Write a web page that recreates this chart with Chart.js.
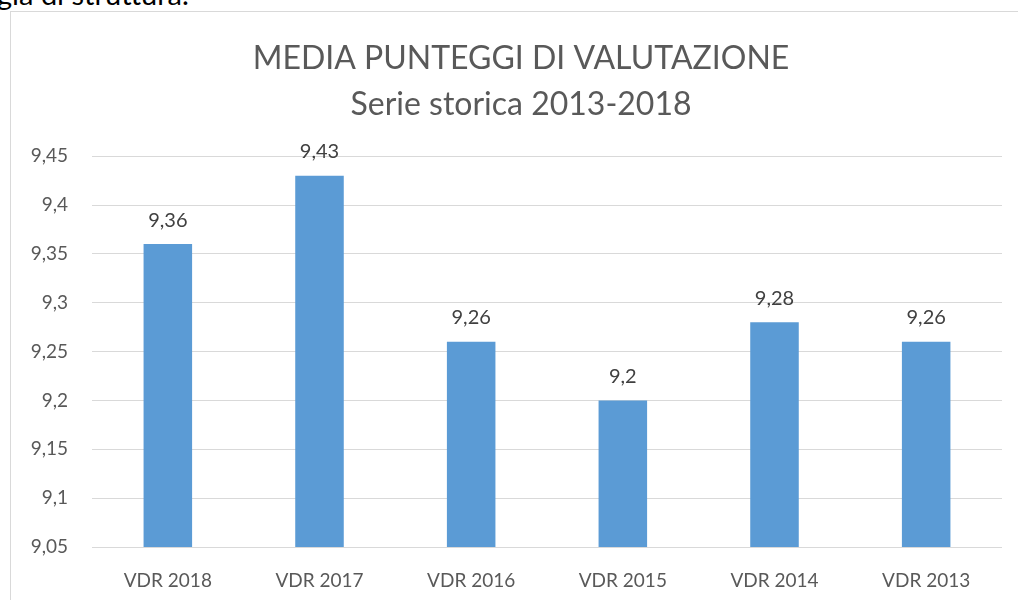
<!DOCTYPE html>
<html>
<head>
<meta charset="utf-8">
<script src="https://cdn.jsdelivr.net/npm/chart.js@4"></script>
<style>
html,body{margin:0;padding:0;background:#fff;overflow:hidden;}
body{width:1018px;height:600px;position:relative;}
#top{position:absolute;left:-3px;top:-21px;font-family:Lato,"Open Sans",sans-serif;font-size:29px;line-height:1;color:#000;white-space:nowrap;}
#frame{position:absolute;left:10px;top:11px;width:1030px;height:620px;border:1px solid #d9d9d9;box-sizing:border-box;}
#wrap{position:absolute;left:0;top:0;width:1018px;height:600px;}
canvas{display:block;}
</style>
</head>
<body>
<div id="top">gia di struttura.</div>
<div id="frame"></div>
<div id="wrap"><canvas id="c" width="1018" height="600" style="width:1018px;height:600px;"></canvas></div>
<script>
const categories = ["VDR 2018","VDR 2017","VDR 2016","VDR 2015","VDR 2014","VDR 2013"];
const values = [9.36, 9.43, 9.26, 9.2, 9.28, 9.26];
const titleLines = ["MEDIA PUNTEGGI DI VALUTAZIONE","Serie storica 2013-2018"];
const yMin = 9.05, yMax = 9.45, yStep = 0.05;

const fmt = v => String(Number(v.toFixed(2))).replace('.', ',');
const FONT = 'Lato, "Open Sans", sans-serif';

const labelPlugin = {
  id: 'barLabels',
  afterLayout(chart) {
    if (chart.titleBlock) { chart.titleBlock.left = 40; }
  },
  afterDatasetsDraw(chart) {
    const ctx = chart.ctx;
    const meta = chart.getDatasetMeta(0);
    ctx.save();
    ctx.font = '20px ' + FONT;
    ctx.fillStyle = '#404040';
    ctx.textAlign = 'center';
    ctx.textBaseline = 'middle';
    meta.data.forEach((bar, i) => {
      ctx.fillText(fmt(values[i]), bar.x, bar.y - 24);
    });
    ctx.restore();
  }
};

new Chart(document.getElementById('c'), {
  type: 'bar',
  data: {
    labels: categories,
    datasets: [{
      data: values,
      backgroundColor: '#5b9bd5',
      borderWidth: 0,
      barPercentage: 0.32,
      categoryPercentage: 1.0
    }]
  },
  options: {
    responsive: false,
    maintainAspectRatio: false,
    animation: false,
    devicePixelRatio: 1,
    layout: { padding: { left: 0, right: 16, top: 10, bottom: 0 } },
    plugins: {
      legend: { display: false },
      tooltip: { enabled: false },
      title: {
        display: true,
        text: titleLines,
        color: '#595959',
        font: { family: FONT, size: 32, weight: 'normal', lineHeight: 1.44 },
        padding: { top: 26, bottom: 28 }
      }
    },
    scales: {
      x: {
        afterFit(scale) { scale.height = 53; },
        grid: { display: false, drawTicks: false },
        border: { display: false },
        ticks: { color: '#595959', font: { family: FONT, size: 19 }, padding: 22 }
      },
      y: {
        min: yMin, max: yMax,
        afterFit(scale) { scale.width = 92; },
        grid: { color: '#d9d9d9', lineWidth: 1, drawTicks: false },
        border: { display: false },
        ticks: {
          stepSize: yStep,
          color: '#595959',
          font: { family: FONT, size: 19 },
          padding: 24,
          callback: v => fmt(v)
        }
      }
    }
  },
  plugins: [labelPlugin]
});
</script>
</body>
</html>
